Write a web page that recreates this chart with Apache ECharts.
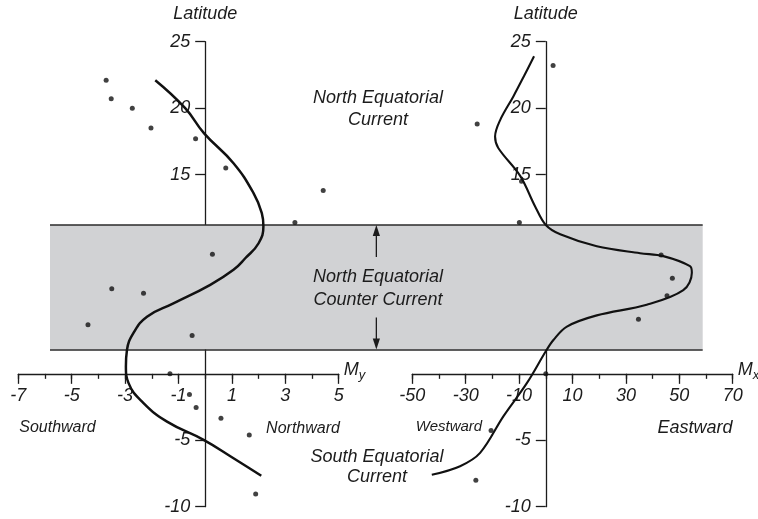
<!DOCTYPE html>
<html><head><meta charset="utf-8">
<script src="https://cdn.jsdelivr.net/npm/echarts@6/dist/echarts.min.js"></script>
<style>html,body{margin:0;padding:0;background:#fff}#c{width:758px;height:519px}</style>
</head><body><div id="c"></div>
<script>
// ---- data ----
const myPoints = [[-3.71,22.1],[-3.52,20.7],[-2.73,20.0],[-2.03,18.5],[-0.36,17.7],[0.77,15.5],[4.42,13.8],[3.36,11.4],[0.27,9.0],[-3.5,6.4],[-2.31,6.07],[-4.39,3.7],[-0.49,2.88],[-1.32,0.0],[-0.59,-1.55],[-0.34,-2.53],[0.59,-3.34],[1.65,-4.6],[1.89,-9.05]];
const myCurve = [[-1.87,22.1],[-0.75,20.0],[-0.04,18.1],[1.06,15.85],[1.81,13.6],[2.12,12.1],[2.18,11.1],[2.0,9.83],[1.5,8.7],[1.06,7.83],[0.19,6.7],[-1.19,5.3],[-2.18,4.3],[-2.69,3.06],[-2.93,1.8],[-2.97,0.55],[-2.87,-0.7],[-2.31,-2.2],[-1.43,-3.6],[-0.06,-4.97],[1.06,-6.35],[2.1,-7.67]];
const mxPoints = [[2.73,23.2],[-25.7,18.8],[-9.1,14.5],[-9.9,11.4],[43.2,8.95],[47.4,7.2],[45.4,5.87],[34.7,4.1],[0,0],[-20.5,-4.27],[-26.2,-8.0]];
const mxCurve = [[-4.4,23.9],[-8.2,22.4],[-12.1,20.9],[-17.1,19.1],[-19,17.86],[-17.8,17.0],[-9.6,14.9],[-4.0,12.6],[0,11.2],[5.4,10.5],[19.1,9.6],[35.3,9.08],[44,8.86],[54,8.1],[54.7,7.6],[51.5,6.3],[37.8,5.2],[19.1,4.4],[7.9,3.56],[2.85,2.55],[0,1.7],[-7.1,-0.7],[-15.9,-3.2],[-24.6,-5.95],[-32.1,-6.95],[-42.7,-7.6]];
const myTickLabels = [-7,-5,-3,-1,1,3,5];
const mxTickLabels = [-50,-30,-10,10,30,50,70];
const latTickLabels = [25,20,15,-5,-10];
const bandLat = [1.83, 11.2];
const myRange = [-7, 5];
const mxRange = [-50, 70];
const latRange = [-10, 25];

// ---- layout / style ----
const FONT = '"Liberation Sans", Arial, sans-serif';
const INK = '#1c1c1c';
const GRID_LEFT = [18.3, 412.3], GRID_W = 320.4, GRID_TOP = 41.7, GRID_H = 465;
const chart = echarts.init(document.getElementById('c'), null, {renderer: 'canvas'});

// axes sit where the other axis is zero: shift them by the scale position of 0
function zeroShiftX(range) { return -GRID_W * (0 - range[0]) / (range[1] - range[0]); }
const xOff = -GRID_H * (0 - latRange[0]) / (latRange[1] - latRange[0]);

function minorX(grid, range, interval) {
  return {gridIndex: grid, type: 'value', position: 'bottom', offset: xOff, min: range[0], max: range[1], interval: interval,
    axisLine: {onZero: false, lineStyle: {color: INK, width: 1.3}},
    axisTick: {show: true, length: 5, lineStyle: {color: INK, width: 1.3}},
    axisLabel: {show: false}, splitLine: {show: false}};
}
function majorX(grid, range, ticks, sub) {
  return {gridIndex: grid, type: 'value', position: 'bottom', offset: xOff, min: range[0], max: range[1],
    axisLine: {show: false, onZero: false},
    axisTick: {show: true, length: 10, customValues: ticks, lineStyle: {color: INK, width: 1.3}},
    axisLabel: {show: true, customValues: ticks, margin: 13, color: INK, fontSize: 18, fontStyle: 'italic', fontFamily: FONT, showMinLabel: true, showMaxLabel: true},
    splitLine: {show: false},
    name: '{m|M}{s|' + sub + '}', nameLocation: 'end', nameGap: 5,
    nameTextStyle: {padding: [0, 0, 8, 0], rich: {
      m: {fontSize: 18, fontStyle: 'italic', fontFamily: FONT, color: INK, lineHeight: 24},
      s: {fontSize: 13, fontStyle: 'italic', fontFamily: FONT, color: INK, lineHeight: 14, verticalAlign: 'bottom'}}}};
}
function latY(grid, xRange) {
  return {gridIndex: grid, type: 'value', position: 'left', offset: zeroShiftX(xRange), min: latRange[0], max: latRange[1], interval: 5,
    axisLine: {onZero: false, lineStyle: {color: INK, width: 1.3}},
    axisTick: {show: true, length: 10, customValues: latTickLabels, lineStyle: {color: INK, width: 1.3}},
    axisLabel: {show: true, customValues: latTickLabels, margin: 15, color: INK, fontSize: 18, fontStyle: 'italic', fontFamily: FONT},
    splitLine: {show: false},
    name: 'Latitude', nameLocation: 'end', nameGap: 19,
    nameTextStyle: {color: INK, fontSize: 18, fontStyle: 'italic', fontFamily: FONT}};
}

const option = {
  animation: false,
  backgroundColor: '#ffffff',
  grid: [
    {left: GRID_LEFT[0], top: GRID_TOP, width: GRID_W, height: GRID_H, containLabel: false, outerBoundsMode: 'none'},
    {left: GRID_LEFT[1], top: GRID_TOP, width: GRID_W, height: GRID_H, containLabel: false, outerBoundsMode: 'none'},
    {left: 50, right: 55.3, top: GRID_TOP, height: GRID_H, containLabel: false, outerBoundsMode: 'none'}
  ],
  xAxis: [
    minorX(0, myRange, 1),
    majorX(0, myRange, myTickLabels, 'y'),
    minorX(1, mxRange, 10),
    majorX(1, mxRange, mxTickLabels, 'x'),
    {gridIndex: 2, type: 'value', min: 0, max: 1, show: false}
  ],
  yAxis: [
    latY(0, myRange),
    latY(1, mxRange),
    {gridIndex: 2, type: 'value', min: latRange[0], max: latRange[1], show: false}
  ],
  series: [
    {type: 'line', xAxisIndex: 4, yAxisIndex: 2, data: [], silent: true,
      markArea: {silent: true, itemStyle: {color: '#d1d2d4', borderWidth: 0},
        data: [[{xAxis: 0, yAxis: bandLat[0]}, {xAxis: 1, yAxis: bandLat[1]}]]},
      markLine: {silent: true, symbol: ['none', 'none'], label: {show: false},
        lineStyle: {color: '#2a2a2a', width: 1.6, type: 'solid'},
        data: [{yAxis: bandLat[0]}, {yAxis: bandLat[1]}]}},
    {type: 'line', xAxisIndex: 0, yAxisIndex: 0, data: myCurve, smooth: 0.45, showSymbol: false, z: 6,
      lineStyle: {color: '#111', width: 2.5}},
    {type: 'scatter', xAxisIndex: 0, yAxisIndex: 0, data: myPoints, symbolSize: 5, z: 6,
      itemStyle: {color: '#111'}},
    {type: 'line', xAxisIndex: 2, yAxisIndex: 1, data: mxCurve, smooth: 0.35, showSymbol: false, z: 6,
      lineStyle: {color: '#111', width: 2.1}},
    {type: 'scatter', xAxisIndex: 2, yAxisIndex: 1, data: mxPoints, symbolSize: 5, z: 6,
      itemStyle: {color: '#111'}}
  ]
};
chart.setOption(option);

// ---- annotations ----
function txt(text, x, y, size, lh) {
  return {type: 'text', x: x, y: y, z: 10, silent: true,
    style: {text: text, fill: INK, font: 'italic ' + size + 'px ' + FONT,
      align: 'center', verticalAlign: 'middle', textAlign: 'center', textVerticalAlign: 'middle', lineHeight: lh || size}};
}
const tipTop = chart.convertToPixel({gridIndex: 2}, [0.5, bandLat[1]]);
const tipBot = chart.convertToPixel({gridIndex: 2}, [0.5, bandLat[0]]);
const AL = 32, AH = 11, AW = 3.6;
chart.setOption({graphic: [
  txt('North Equatorial\nCurrent', 378, 109, 18, 22),
  txt('North Equatorial\nCounter Current', 378, 288, 18, 23),
  txt('South Equatorial\nCurrent', 377, 467, 18, 20),
  txt('Southward', 57.5, 428, 16),
  txt('Northward', 303, 429, 16),
  txt('Westward', 449, 427, 15),
  txt('Eastward', 695, 428, 18),
  {type: 'line', z: 10, silent: true, shape: {x1: tipTop[0], y1: tipTop[1] + AL, x2: tipTop[0], y2: tipTop[1] + AH - 1}, style: {stroke: INK, lineWidth: 1.3}},
  {type: 'polygon', z: 10, silent: true, shape: {points: [[tipTop[0], tipTop[1]], [tipTop[0] - AW, tipTop[1] + AH], [tipTop[0] + AW, tipTop[1] + AH]]}, style: {fill: INK}},
  {type: 'line', z: 10, silent: true, shape: {x1: tipBot[0], y1: tipBot[1] - AL, x2: tipBot[0], y2: tipBot[1] - AH + 1}, style: {stroke: INK, lineWidth: 1.3}},
  {type: 'polygon', z: 10, silent: true, shape: {points: [[tipBot[0], tipBot[1]], [tipBot[0] - AW, tipBot[1] - AH], [tipBot[0] + AW, tipBot[1] - AH]]}, style: {fill: INK}}
]});
</script>
</body></html>
